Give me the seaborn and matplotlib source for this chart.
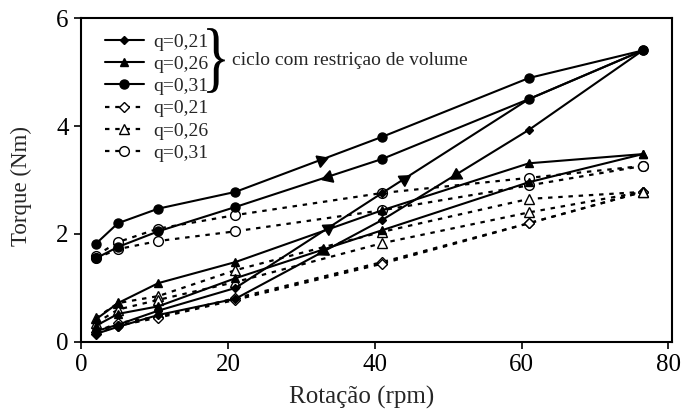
import numpy as np
import pandas as pd
import seaborn as sns
import matplotlib.pyplot as plt
from matplotlib.lines import Line2D
from matplotlib.patches import PathPatch
from matplotlib.textpath import TextPath
from matplotlib.font_manager import FontProperties
from matplotlib.transforms import Affine2D

# rotation points (rpm)
rotacao = [2, 5, 10.5, 21, 41, 61, 76.5]

# solid lines: cycle with volume restriction (up path / return path)
q21_vol_up = [0.20, 0.32, 0.58, 1.00, 2.76, 4.50, 5.40]
q21_vol_down = [0.15, 0.28, 0.50, 0.80, 2.26, 3.93, 5.40]
q26_vol_up = [0.42, 0.72, 1.09, 1.48, 2.44, 3.31, 3.48]
q26_vol_down = [0.30, 0.52, 0.66, 1.18, 2.07, 2.96, 3.48]
q31_vol_up = [1.82, 2.20, 2.47, 2.78, 3.80, 4.89, 5.40]
q31_vol_down = [1.55, 1.76, 2.05, 2.50, 3.39, 4.50, 5.40]

# dashed lines: cycle without restriction
q21_up = [0.19, 0.35, 0.47, 0.81, 1.48, 2.20, 2.78]
q21_down = [0.15, 0.30, 0.45, 0.78, 1.45, 2.20, 2.78]
q26_up = [0.44, 0.72, 0.85, 1.33, 2.04, 2.65, 2.78]
q26_down = [0.35, 0.60, 0.78, 1.11, 1.83, 2.40, 2.78]
q31_up = [1.60, 1.85, 2.10, 2.35, 2.76, 3.04, 3.26]
q31_down = [1.55, 1.72, 1.87, 2.05, 2.44, 2.90, 3.26]

legend_labels = ['q=0,21', 'q=0,26', 'q=0,31', 'q=0,21', 'q=0,26', 'q=0,31']

# direction arrows: (path name, segment start index, fraction along segment, forward?)
arrows = [
    ('q31_vol_up', 3, 0.58, True),
    ('q31_vol_down', 3, 0.63, False),
    ('q21_vol_up', 3, 0.63, True),
    ('q21_vol_up', 4, 0.15, True),
    ('q21_vol_down', 4, 0.50, False),
    ('q21_vol_down', 3, 0.60, False),
]

paths = {
    'q21_vol_up': q21_vol_up, 'q21_vol_down': q21_vol_down,
    'q26_vol_up': q26_vol_up, 'q26_vol_down': q26_vol_down,
    'q31_vol_up': q31_vol_up, 'q31_vol_down': q31_vol_down,
    'q21_up': q21_up, 'q21_down': q21_down,
    'q26_up': q26_up, 'q26_down': q26_down,
    'q31_up': q31_up, 'q31_down': q31_down,
}

rows = []
for name, vals in paths.items():
    for x, y in zip(rotacao, vals):
        rows.append({'path': name, 'Rotacao': x, 'Torque': y})
df = pd.DataFrame(rows)

sns.set_style('ticks')
plt.rcParams['font.family'] = ['Liberation Serif', 'DejaVu Serif']

fig, ax = plt.subplots(figsize=(6.83, 4.11), dpi=100)
fig.subplots_adjust(left=0.119, right=0.984, top=0.956, bottom=0.168)

dash = (0, (2.0, 2.6))
styles = {
    'q21_vol': dict(marker='D', ms=4.5, mfc='black', ls='-', lw=1.5),
    'q26_vol': dict(marker='^', ms=6, mfc='black', ls='-', lw=1.5),
    'q31_vol': dict(marker='o', ms=6.5, mfc='black', ls='-', lw=1.5),
    'q21': dict(marker='D', ms=5, mfc='white', ls=dash, lw=1.6),
    'q26': dict(marker='^', ms=7, mfc='white', ls=dash, lw=1.6),
    'q31': dict(marker='o', ms=7, mfc='white', ls=dash, lw=1.6),
}

# draw dashed first so solid lines sit on top
order = ['q21_up', 'q21_down', 'q26_up', 'q26_down', 'q31_up', 'q31_down',
         'q21_vol_up', 'q21_vol_down', 'q26_vol_up', 'q26_vol_down', 'q31_vol_up', 'q31_vol_down']
for name in order:
    st = styles[name.rsplit('_', 1)[0]]
    sub = df[df['path'] == name]
    sns.lineplot(data=sub, x='Rotacao', y='Torque', ax=ax, color='black', sort=False,
                 marker=st['marker'], markersize=st['ms'], markerfacecolor=st['mfc'],
                 markeredgecolor='black', markeredgewidth=1.0,
                 linestyle=st['ls'], linewidth=st['lw'], legend=False)

ax.set_xlim(0, 80.5)
ax.set_ylim(0, 6)
ax.set_xticks([0, 20, 40, 60, 80])
ax.set_yticks([0, 2, 4, 6])
ax.set_xlabel('Rotação (rpm)', fontsize=18, labelpad=3)
ax.set_ylabel('Torque (Nm)', fontsize=16.5)
ax.xaxis.set_label_coords(0.475, -0.135)
ax.yaxis.set_label_coords(-0.083, 0.48)
ax.tick_params(labelsize=18, direction='out', length=5, width=1.2, pad=4, colors='black')
for sp in ax.spines.values():
    sp.set_visible(True)
    sp.set_linewidth(1.5)
    sp.set_color('black')

# direction arrows along the solid cycles
fig.canvas.draw()
for name, i, f, fwd in arrows:
    vals = paths[name]
    x0, x1 = rotacao[i], rotacao[i + 1]
    y0, y1 = vals[i], vals[i + 1]
    px = x0 + f * (x1 - x0)
    py = y0 + f * (y1 - y0)
    d0 = ax.transData.transform((x0, y0))
    d1 = ax.transData.transform((x1, y1))
    ang = np.degrees(np.arctan2(d1[1] - d0[1], d1[0] - d0[0]))
    if not fwd:
        ang += 180
    ax.plot(px, py, marker=(3, 0, ang - 90), ms=10, color='black', ls='none')

handles = []
for key in ['q21_vol', 'q26_vol', 'q31_vol', 'q21', 'q26', 'q31']:
    st = styles[key]
    handles.append(Line2D([], [], color='black', marker=st['marker'], ms=st['ms'],
                          mfc=st['mfc'], mec='black', ls=st['ls'], lw=st['lw']))
ax.legend(handles, legend_labels, loc='upper left', bbox_to_anchor=(0.02, 0.99),
          frameon=False, fontsize=14, handlelength=2.0, labelspacing=0.24,
          handletextpad=0.5, borderaxespad=0.2)

# tall narrow brace grouping the first three entries
brace = TextPath((0, 0), '}', size=1, prop=FontProperties(family='Liberation Serif'))
bb = brace.get_extents()
bx0, bx1, by0, by1 = 0.213, 0.243, 0.769, 0.969
tr = (Affine2D().translate(-bb.x0, -bb.y0)
      .scale((bx1 - bx0) / bb.width, (by1 - by0) / bb.height)
      .translate(bx0, by0) + ax.transAxes)
ax.add_patch(PathPatch(brace, transform=tr, color='black', lw=0, clip_on=False))
ax.text(0.255, 0.87, 'ciclo com restriçao de volume', transform=ax.transAxes,
        fontsize=14, va='center', ha='left')

fig.savefig('out.png', dpi=100)
